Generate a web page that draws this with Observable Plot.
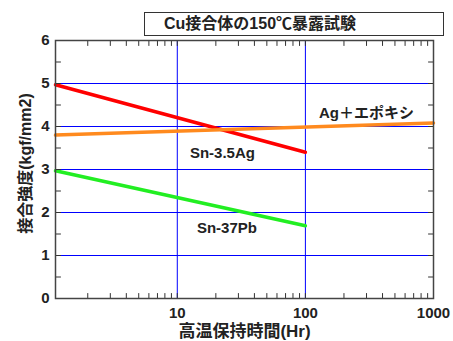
<!DOCTYPE html>
<html><head><meta charset="utf-8">
<script src="https://cdn.jsdelivr.net/npm/d3@7"></script>
<script src="https://cdn.jsdelivr.net/npm/@observablehq/plot@0.6"></script>
<style>
body{margin:0;background:#fff;}
#wrap{position:relative;width:453px;height:341px;}
#title{position:absolute;left:144px;top:12px;width:279px;height:22px;border:1.5px solid #333;
  font:bold 16px "Liberation Sans","Noto Sans CJK JP",sans-serif;color:#222;
  line-height:22px;padding-left:19px;box-sizing:content-box;white-space:nowrap;}
#chart{position:absolute;left:0;top:0;}
</style>
</head><body>
<div id="wrap"><div id="chart"></div><div id="title"></div></div>
<script>
const titleText = "Cu接合体の150℃暴露試験";
const xTitle = "高温保持時間(Hr)";
const yTitle = "接合強度(kgf/mm2)";

const seriesNames = ["Sn-3.5Ag", "Ag＋エポキシ", "Sn-37Pb"];
const seriesColors = ["#ff0000", "#ff8a1e", "#22ee22"];

const hoursSnAg = [1.12, 100];
const strengthSnAg = [4.97, 3.40];
const hoursAgEpoxy = [1.12, 1000];
const strengthAgEpoxy = [3.80, 4.08];
const hoursSnPb = [1.12, 100];
const strengthSnPb = [2.97, 1.69];

const labelHours = [22.5, 300, 24.4];
const labelStrength = [3.37, 4.30, 1.63];

const xDomain = [1.12, 1000];
const yDomain = [0, 6];
const xTickLabels = [10, 100, 1000];
const yTickLabels = [0, 1, 2, 3, 4, 5, 6];
const xGrid = [10, 100];
const yGrid = [1, 2, 3, 4, 5];
const xMinorTicks = [2,3,4,5,6,7,8,9,10,20,30,40,50,60,70,80,90,100,200,300,400,500,600,700,800,900];
const yMinorTicks = [0.5,1,1.5,2,2.5,3,3.5,4,4.5,5,5.5];

const rows = [
  ...hoursSnAg.map((h, i) => ({series: seriesNames[0], hours: h, strength: strengthSnAg[i]})),
  ...hoursAgEpoxy.map((h, i) => ({series: seriesNames[1], hours: h, strength: strengthAgEpoxy[i]})),
  ...hoursSnPb.map((h, i) => ({series: seriesNames[2], hours: h, strength: strengthSnPb[i]}))
];
const labels = seriesNames.map((s, i) => ({series: s, hours: labelHours[i], strength: labelStrength[i]}));

const tickShape = {draw(context, l) { context.moveTo(0, 0); context.lineTo(0, -l); }};
const font = '"Liberation Sans","Noto Sans CJK JP",sans-serif';
const tickOpts = {length: 5, anchor: "start", shape: tickShape, stroke: "#333", strokeWidth: 1};

document.getElementById("title").textContent = titleText;

const chart = Plot.plot({
  width: 453, height: 341,
  marginLeft: 55, marginRight: 20, marginTop: 40, marginBottom: 43,
  x: {type: "log", domain: xDomain},
  y: {domain: yDomain},
  color: {domain: seriesNames, range: seriesColors},
  style: {fontFamily: font, fontSize: "15px", fontWeight: "bold", color: "#222", background: "white"},
  marks: [
    Plot.ruleY(yGrid, {stroke: "#0000ff", strokeWidth: 1}),
    Plot.ruleX(xGrid, {stroke: "#0000ff", strokeWidth: 1}),
    Plot.line(rows, {x: "hours", y: "strength", z: "series", stroke: "series", strokeWidth: 3.5}),
    Plot.vector(xMinorTicks, {x: d => d, y: yDomain[0], rotate: 0, ...tickOpts}),
    Plot.vector(xMinorTicks, {x: d => d, y: yDomain[1], rotate: 180, ...tickOpts}),
    Plot.vector(yMinorTicks, {y: d => d, x: xDomain[0], rotate: 90, ...tickOpts}),
    Plot.vector(yMinorTicks, {y: d => d, x: xDomain[1], rotate: 270, ...tickOpts}),
    Plot.frame({stroke: "#444", strokeWidth: 1.5}),
    Plot.axisX(xTickLabels, {tickSize: 0, tickPadding: 9, tickFormat: d => String(d), label: null, fontSize: 15, fontWeight: "bold", fill: "#222"}),
    Plot.axisY(yTickLabels, {tickSize: 0, tickPadding: 6, tickFormat: d => String(d), label: null, fontSize: 15, fontWeight: "bold", fill: "#222"}),
    Plot.text(labels, {x: "hours", y: "strength", text: "series", fontSize: 15, fontWeight: "bold", fill: "#222"}),
    Plot.text([xTitle], {text: d => d, frameAnchor: "bottom", dy: 38, fontSize: 17, fontWeight: "bold", fill: "#222"}),
    Plot.text([yTitle], {text: d => d, frameAnchor: "left", textAnchor: "middle", dx: -30, dy: -6, rotate: -90, fontSize: 16, fontWeight: "bold", fill: "#222"})
  ]
});
document.getElementById("chart").appendChild(chart);
</script>
</body></html>
